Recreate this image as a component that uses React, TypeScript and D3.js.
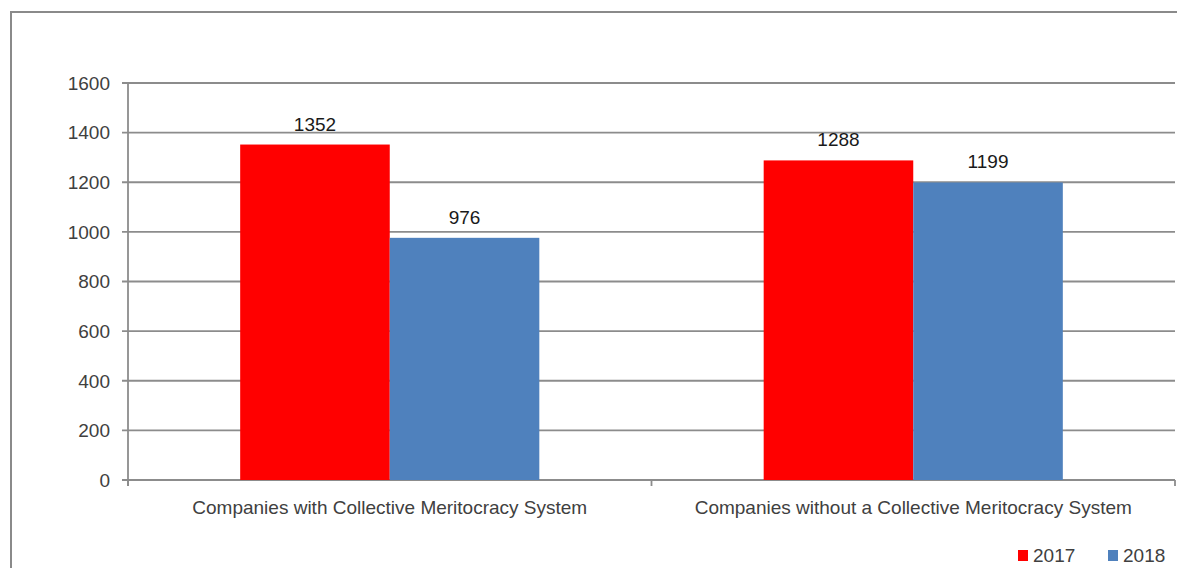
import React from "react";
import * as d3 from "d3";

const categories = [
  "Companies with Collective Meritocracy System",
  "Companies without a Collective Meritocracy System",
];
const years = ["2017", "2018"];
const values2017 = [1352, 1288];
const values2018 = [976, 1199];
const yTicks = [0, 200, 400, 600, 800, 1000, 1200, 1400, 1600];
const seriesColors = ["#ff0000", "#4f81bd"];

const W = 1177;
const H = 568;
const plot = { left: 128, right: 1175, top: 83, bottom: 480 };
const FONT = "'Liberation Sans', Arial, sans-serif";
const FS = 19;

export default function App() {
  const x = d3
    .scaleBand<string>()
    .domain(categories)
    .range([plot.left, plot.right])
    .paddingInner(0)
    .paddingOuter(0);
  const y = d3.scaleLinear().domain([0, 1600]).range([plot.bottom, plot.top]);
  // Excel-style gap width of 150%: two bars plus 1.5 bar widths per category
  const bw = x.bandwidth() / 3.5;
  const inner = d3
    .scaleBand<string>()
    .domain(years)
    .range([0, bw * 2]);
  const series = [values2017, values2018];
  const axisColor = "#8c8c8c";

  return (
    <svg
      width={W}
      height={H}
      style={{ position: "absolute", left: 0, top: 0, background: "#fff" }}
    >
      <rect x={11} y={12} width={1300} height={700} fill="#fff" stroke="#8a8a8a" strokeWidth={2} />
      {yTicks.map((t) => (
        <g key={t}>
          <line x1={plot.left - 6} x2={plot.right} y1={y(t)} y2={y(t)} stroke={axisColor} strokeWidth={1.8} />
          <text
            x={110}
            y={y(t)}
            dy="0.36em"
            textAnchor="end"
            fontFamily={FONT}
            fontSize={FS}
            fill="#404040"
          >
            {t}
          </text>
        </g>
      ))}
      <line x1={plot.left} x2={plot.left} y1={plot.top} y2={plot.bottom + 6} stroke={axisColor} strokeWidth={1.8} />
      {[plot.left, x(categories[1])!, plot.right].map((px, i) => (
        <line key={i} x1={px} x2={px} y1={plot.bottom} y2={plot.bottom + 6} stroke={axisColor} strokeWidth={1.8} />
      ))}
      {categories.map((c, ci) => {
        const gx = x(c)! + (x.bandwidth() - bw * 2) / 2;
        return (
          <g key={c}>
            {years.map((yr, si) => {
              const v = series[si][ci];
              const bx = gx + inner(yr)!;
              return (
                <g key={yr}>
                  <rect x={bx} y={y(v)} width={bw} height={plot.bottom - y(v)} fill={seriesColors[si]} />
                  <text
                    x={bx + bw / 2}
                    y={y(v) - 14}
                    textAnchor="middle"
                    fontFamily={FONT}
                    fontSize={FS}
                    fill="#1a1a1a"
                  >
                    {v}
                  </text>
                </g>
              );
            })}
            <text
              x={x(c)! + x.bandwidth() / 2}
              y={514}
              textAnchor="middle"
              fontFamily={FONT}
              fontSize={FS}
              fill="#404040"
            >
              {c}
            </text>
          </g>
        );
      })}
      {years.map((yr, i) => {
        const lx = [1018, 1108][i];
        return (
          <g key={yr}>
            <rect x={lx} y={550} width={10} height={11} fill={seriesColors[i]} />
            <text x={lx + 15} y={562} fontFamily={FONT} fontSize={FS} fill="#404040">
              {yr}
            </text>
          </g>
        );
      })}
    </svg>
  );
}
